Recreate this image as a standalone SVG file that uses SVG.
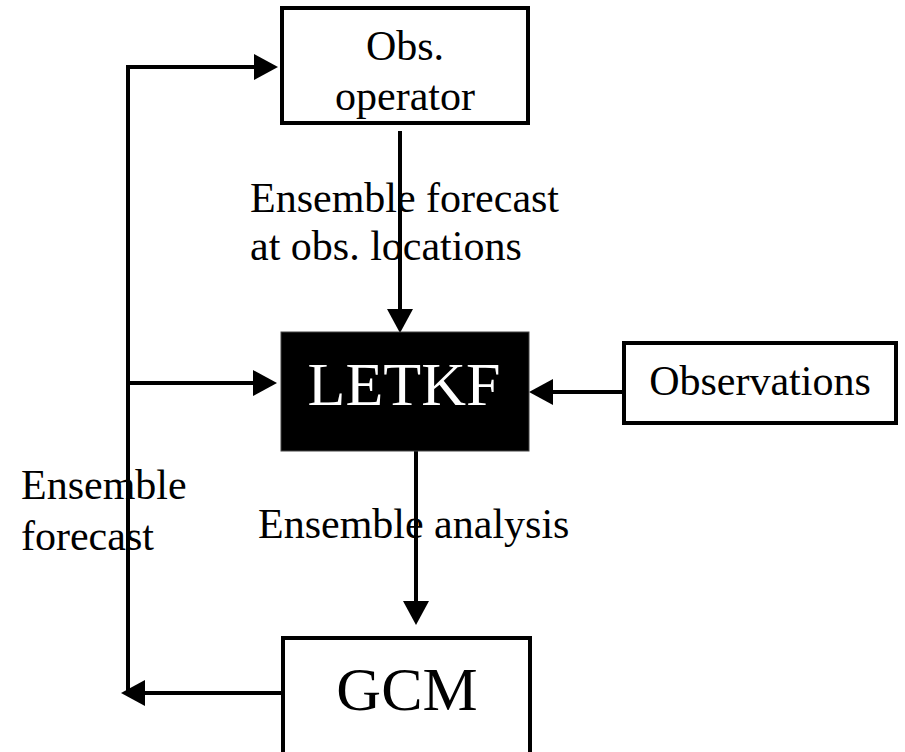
<svg xmlns="http://www.w3.org/2000/svg" width="905" height="752" viewBox="0 0 905 752">
<style>
.box{fill:#fff;stroke:#000;stroke-width:4}
.dark{fill:#000;stroke:#444;stroke-width:1}
.t{font-family:"Liberation Serif","Times New Roman",serif;font-size:42px;fill:#000}
.big{font-size:62px}
.w{fill:#fff}
.c{text-anchor:middle}
.ln{fill:none;stroke:#000;stroke-width:4}
</style>
<defs>
<marker id="ah" markerUnits="userSpaceOnUse" markerWidth="26" markerHeight="28" refX="0" refY="13" orient="auto" viewBox="0 0 26 26" overflow="visible">
<path d="M0,0 L24,13 L0,26 Z" fill="#000"/>
</marker>
</defs>
<g id="connectors">
<path class="ln" d="M128 691 V67 H254" marker-end="url(#ah)"/>
<path class="ln" d="M128 383 H253" marker-end="url(#ah)"/>
<path class="ln" d="M283 693 H145" marker-end="url(#ah)"/>
<path class="ln" d="M400 131 V309" marker-end="url(#ah)"/>
<path class="ln" d="M623 392 H553" marker-end="url(#ah)"/>
<path class="ln" d="M416 451 V601" marker-end="url(#ah)"/>
</g>
<g id="obs-operator">
<rect class="box" x="282" y="8" width="246" height="115"/>
<text class="t c" x="405" y="60">Obs.</text>
<text class="t c" x="405" y="110">operator</text>
</g>
<g id="letkf">
<rect class="dark" x="281" y="332" width="248" height="119"/>
<text class="t big w c" x="404" y="405">LETKF</text>
</g>
<g id="observations">
<rect class="box" x="624" y="343" width="272" height="80"/>
<text class="t c" x="760" y="395">Observations</text>
</g>
<g id="gcm">
<rect class="box" x="283" y="638" width="247" height="130"/>
<text class="t big c" x="407" y="710">GCM</text>
</g>
<g id="labels">
<text class="t" x="250" y="212">Ensemble forecast</text>
<text class="t" x="250" y="260">at obs. locations</text>
<text class="t" x="21" y="499">Ensemble</text>
<text class="t" x="21" y="550">forecast</text>
<text class="t" x="258" y="538">Ensemble analysis</text>
</g>
</svg>
